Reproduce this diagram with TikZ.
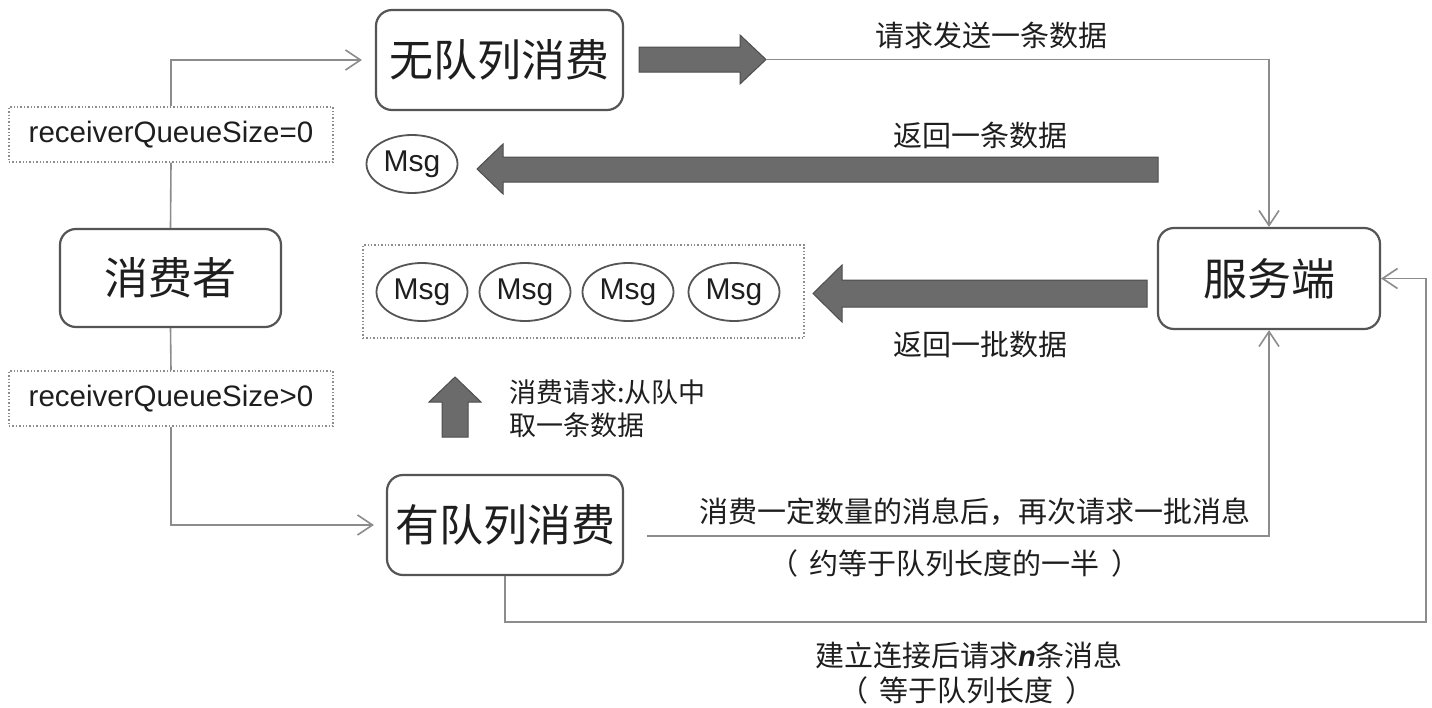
\documentclass[tikz,border=0pt]{standalone}
\usepackage{fontspec}
\setmainfont{Liberation Sans}
\newfontfamily\cjk{Noto Sans CJK SC}
\usetikzlibrary{arrows.meta,shapes.geometric}
\definecolor{boxc}{HTML}{555555}
\definecolor{linec}{HTML}{8C8C8C}
\definecolor{fatfill}{HTML}{6B6B6B}
\definecolor{fatdraw}{HTML}{4D4D4D}
\definecolor{txt}{HTML}{1E1E1E}
\begin{document}
\begin{tikzpicture}[x=1pt,y=-1pt,
  mainbox/.style={draw=boxc, line width=2.2pt, rounded corners=16pt, text=txt,
    font=\cjk\fontsize{44}{48}\selectfont, inner sep=0pt},
  condbox/.style={draw=linec, dotted, line width=1.4pt, minimum width=324pt,
    minimum height=55pt, inner sep=0pt, text=txt, font=\fontsize{29.5}{32}\selectfont},
  qbox/.style={draw=linec, dotted, line width=1.4pt, inner sep=0pt},
  msg/.style={ellipse, draw=boxc, line width=1.8pt, minimum width=91pt,
    minimum height=58pt, inner sep=0pt, text=txt, font=\fontsize{30}{32}\selectfont},
  conn/.style={draw=linec, line width=1.6pt},
  arr/.style={conn, -{Straight Barb[length=15pt,width=20pt]}},
  lab/.style={inner sep=0pt, text=txt, font=\cjk\fontsize{29}{33}\selectfont},
  fat/.style={fill=fatfill, draw=fatdraw, line width=1pt, line join=miter}]
\useasboundingbox[fill=white] (0,0) rectangle (1432,707);

% main boxes
\node[mainbox, minimum width=247pt, minimum height=100pt] (nq) at (499.5,60) {无队列消费};
\node[mainbox, minimum width=221pt, minimum height=98pt] (cons) at (170.5,278) {消费者};
\node[mainbox, minimum width=222pt, minimum height=101pt] (srv) at (1269,278.5) {服务端};
\node[mainbox, minimum width=236pt, minimum height=100pt] (wq) at (505,525) {有队列消费};

% condition boxes
\node[condbox] (rq0) at (171,134.5) {receiverQueueSize=0};
\node[condbox] (rq1) at (171,398.5) {receiverQueueSize>0};

% messages
\node[msg] (m0) at (412,164) {Msg};
\node[qbox, minimum width=441pt, minimum height=93pt] (queue) at (583.5,291.5) {};
\node[msg] (m1) at (422,292) {Msg};
\node[msg] (m2) at (525,292) {Msg};
\node[msg] (m3) at (628,292) {Msg};
\node[msg] (m4) at (734,292) {Msg};

% fat arrows
\draw[fat] (639,47) -- (740,47) -- (740,35) -- (766,59.5) -- (740,84) -- (740,72) -- (639,72) -- cycle;
\coordinate (fa1) at (766,59.5);
\draw[fat] (1158,157) -- (503,157) -- (503,144) -- (477,169) -- (503,194) -- (503,182) -- (1158,182) -- cycle;
\draw[fat] (1147,280) -- (842,280) -- (842,265) -- (813,293.5) -- (842,322) -- (842,307) -- (1147,307) -- cycle;
\draw[fat] (442,437) -- (442,402) -- (429,402) -- (455,377) -- (481,402) -- (468,402) -- (468,437) -- cycle;

% connectors
\coordinate (t0) at ([xshift=-13pt]nq.west);
\coordinate (t1) at ([xshift=-12pt]wq.west);
\coordinate (w1) at (647,536);
\coordinate (c1) at (1426,622);
\draw[conn] (cons.north) -- (rq0.south);
\draw[arr] (rq0.north) |- (t0);
\draw[conn] (cons.south) -- (rq1.north);
\draw[arr] (rq1.south) |- (t1);
\draw[arr] (fa1) -| (srv.north);
\draw[arr] (w1) -| (srv.south);
\draw[arr] (wq.south) |- (c1) |- (srv.east);

% labels
\node[lab] (l1) at (991,35) {请求发送一条数据};
\node[lab] (l2) at (980,135) {返回一条数据};
\node[lab] (l3) at (980,345) {返回一批数据};
\node[lab, anchor=west, align=left, font=\cjk\fontsize{27}{33}\selectfont] (l4) at (509,409)
  {消费请求:从队中\\取一条数据};
\node[lab] (l5) at (975,512) {消费一定数量的消息后，再次请求一批消息};
\node[lab] (l6) at (955,563) {（\kern12pt 约等于队列长度的一半\kern12pt ）};
\node[lab] (l7) at (969,655) {建立连接后请求{\rmfamily\bfseries\itshape n}条消息};
\node[lab] (l8) at (967,690) {（\kern12pt 等于队列长度\kern12pt ）};
\end{tikzpicture}
\end{document}
